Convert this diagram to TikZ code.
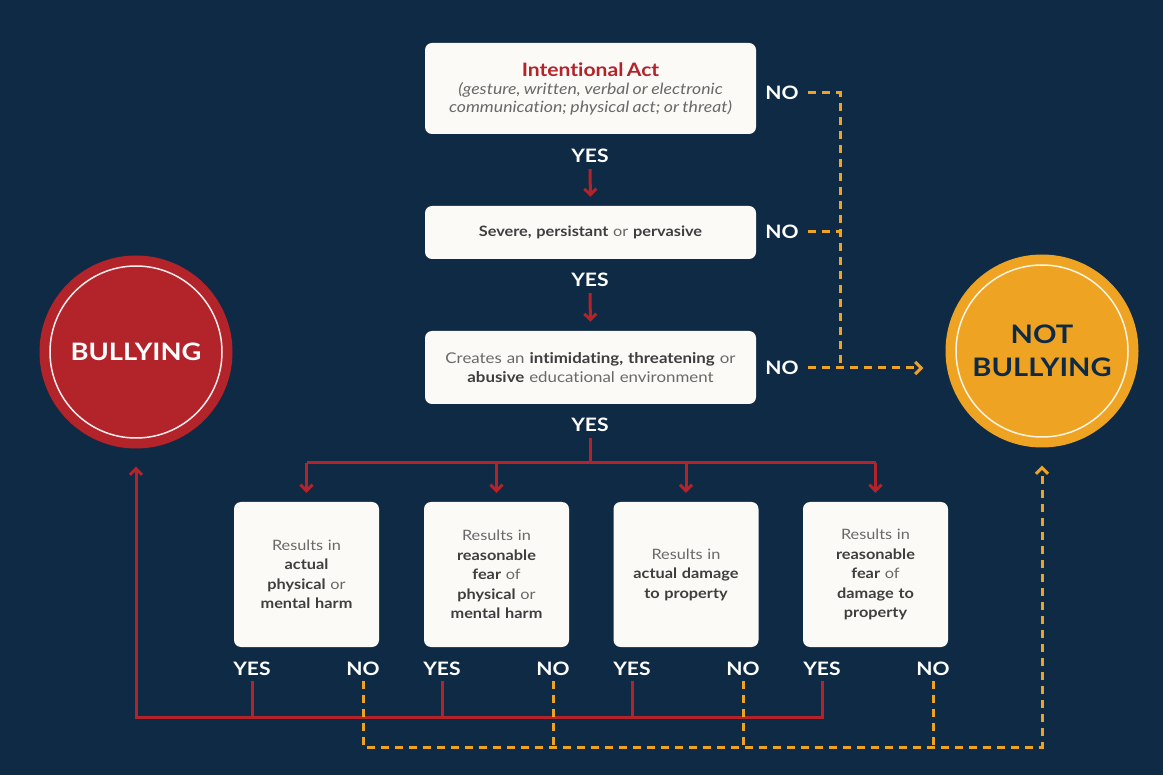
\documentclass[tikz,border=0pt]{standalone}
\usepackage{fontspec}
\setmainfont{Lato}[FakeStretch=1.14, Ligatures=NoCommon]
\usetikzlibrary{arrows.meta}
\definecolor{bg}{RGB}{15,42,68}
\definecolor{myred}{RGB}{178,35,42}
\definecolor{myorange}{RGB}{238,164,34}
\definecolor{boxfill}{RGB}{251,250,247}
\definecolor{txtgray}{RGB}{105,105,105}
\definecolor{txtdark}{RGB}{62,62,62}
\newcommand{\strongtxt}[1]{{\color{txtdark}\bfseries #1}}
\begin{document}
\begin{tikzpicture}[x=1pt,y=-1pt,
  box/.style={fill=boxfill, rounded corners=7pt, draw=none, align=center, inner sep=0pt, text=txtgray},
  smallbox/.style={box, minimum width=145pt, minimum height=145pt, text width=138pt,
     font=\fontsize{14.3}{19.5}\selectfont},
  lab/.style={text=white, font=\bfseries\fontsize{18.5}{18.5}\selectfont, inner sep=1pt},
  yesline/.style={draw=myred, line width=3pt},
  noline/.style={draw=myorange, line width=3pt, dash pattern=on 8pt off 6pt},
  redarrow/.style={yesline, -{Straight Barb[length=6pt,width=12pt]}},
  orarrow/.style={noline, -{Straight Barb[length=6pt,width=12pt]}},
  bigcirc/.style={circle, minimum size=193pt, inner sep=0pt, draw=none, align=center}
]
\fill[bg] (0,0) rectangle (1163,775);
\useasboundingbox (0,0) rectangle (1163,775);

% top boxes
\node[box, minimum width=331pt, minimum height=91pt, text width=325pt] (b1) at (590.5,88.5)
 {{\color{myred}\bfseries\fontsize{18.5}{22}\selectfont Intentional Act}\par
  {\itshape\fontsize{15.5}{18}\selectfont (gesture, written, verbal or electronic\\ communication; physical act; or threat)\par}};
\node[box, minimum width=331pt, minimum height=53pt, text width=325pt,
      font=\fontsize{14.3}{18}\selectfont] (b2) at (590.5,232.5)
 {\strongtxt{Severe, persistant} or \strongtxt{pervasive}};
\node[box, minimum width=331pt, minimum height=73pt, text width=325pt,
      font=\fontsize{14.8}{19}\selectfont] (b3) at (590.5,367.5)
 {Creates an \strongtxt{intimidating, threatening} or\\ \strongtxt{abusive} educational environment};

% circles
\node[bigcirc, fill=myred, text=white, font=\bfseries\fontsize{24}{24}\selectfont] (bully) at (136,352) {BULLYING};
\draw[white!92!myred, line width=1.5pt] (bully.center) circle[radius=86pt];
\node[bigcirc, fill=myorange, text=bg, font=\bfseries\fontsize{25.5}{33}\selectfont] (notb) at (1042,351) {NOT\\BULLYING};
\draw[white!88!myorange, line width=1.5pt] (notb.center) circle[radius=86pt];

% top labels
\node[lab] (y1) at (590,156) {YES};
\node[lab] (y2) at (590,280) {YES};
\node[lab] (y3) at (590,425) {YES};
\node[lab] (n1) at (782,93) {NO};
\node[lab] (n2) at (782,232) {NO};
\node[lab] (n3) at (782,368) {NO};

\draw[redarrow, shorten <=5pt, shorten >=9pt] (y1.south) -- (b2.north);
\draw[redarrow, shorten <=5pt, shorten >=9pt] (y2.south) -- (b3.north);

% bottom boxes
\node[smallbox] (ba) at (306.5,574.5)
 {Results in\\ \strongtxt{actual}\\ \strongtxt{physical} or\\ \strongtxt{mental harm}};
\node[smallbox] (bb) at (496.5,574.5)
 {Results in\\ \strongtxt{reasonable}\\ \strongtxt{fear} of\\ \strongtxt{physical} or\\ \strongtxt{mental harm}};
\node[smallbox] (bc) at (686,574.5)
 {Results in\\ \strongtxt{actual damage}\\ \strongtxt{to property}};
\node[smallbox] (bd) at (875.5,574.5)
 {Results in\\ \strongtxt{reasonable}\\ \strongtxt{fear} of\\ \strongtxt{damage to}\\ \strongtxt{property}};

% distribution bar
\coordinate (bar) at (590,463);
\draw[yesline, shorten <=5pt] (y3.south) -- (bar);
\draw[yesline] (ba.north |- bar) -- (bd.north |- bar);
\foreach \b in {ba,bb,bc,bd}
  \draw[redarrow, shorten >=9pt] (\b.north |- bar) -- (\b.north);

% bottom labels
\node[lab] (ya) at (252,669) {YES};
\node[lab] (na) at (363,669) {NO};
\node[lab] (yb) at (442,669) {YES};
\node[lab] (nb) at (553,669) {NO};
\node[lab] (yc) at (632,669) {YES};
\node[lab] (nc) at (743,669) {NO};
\node[lab] (yd) at (822,669) {YES};
\node[lab] (nd) at (933,669) {NO};

\coordinate (rbar) at (0,717);
\coordinate (obar) at (0,747);

% red yes path to bullying
\draw[redarrow, shorten <=4pt, shorten >=18pt] (yd.south) -- (yd.south |- rbar) -| (bully.south);
\foreach \y in {ya,yb,yc}
  \draw[yesline, shorten <=4pt] (\y.south) -- (\y.south |- rbar);

% orange no path to not bullying
\draw[orarrow, shorten <=4pt, shorten >=18pt] (na.south) -- (na.south |- obar) -| (notb.south);
\foreach \n in {nb,nc,nd}
  \draw[noline, shorten <=4pt] (\n.south) -- (\n.south |- obar);

% top no paths
\coordinate (ojoin) at (840,0);
\draw[noline, shorten <=8pt] (n1.east) -- (n1.east -| ojoin) -- (n3.east -| ojoin);
\draw[noline, shorten <=8pt] (n2.east) -- (n2.east -| ojoin);
\draw[orarrow, shorten <=8pt, shorten >=22pt] (n3.east) -- (n3.east -| notb.west);
\end{tikzpicture}
\end{document}
